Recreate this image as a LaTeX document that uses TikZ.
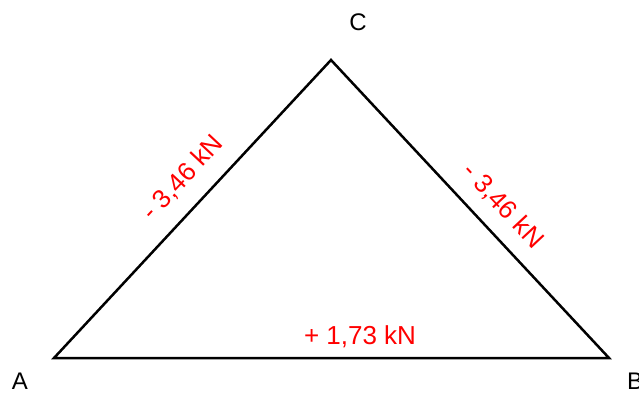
\documentclass[tikz,border=0pt]{standalone}
\usepackage{fontspec}
\setmainfont{Liberation Sans}
\begin{document}
\begin{tikzpicture}[x=1pt,y=-1pt,
  member/.style={line width=2.5pt, line join=miter},
  force/.style={text=red, font=\fontsize{26}{29}\selectfont, inner sep=0pt},
  vlabel/.style={font=\fontsize{24}{28}\selectfont, inner sep=0pt}]
\useasboundingbox (0,0) rectangle (639,395);
\coordinate (A) at (54,358);
\coordinate (B) at (609,358);
\coordinate (C) at (331,60);
\draw[member] (A) -- (B) -- (C) -- cycle;
\node[vlabel] (lA) at (20,381) {A};
\node[vlabel] (lB) at (635,381) {B};
\node[vlabel] (lC) at (358,22) {C};
\node[force, rotate=47] (fAC) at (183,178) {- 3,46 kN};
\node[force, rotate=-47] (fCB) at (503,206) {- 3,46 kN};
\node[force] (fAB) at (360,337) {+ 1,73 kN};
\end{tikzpicture}
\end{document}
